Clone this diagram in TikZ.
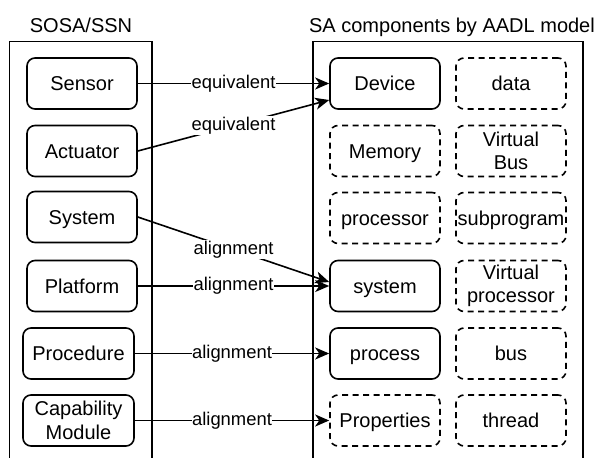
\documentclass[tikz,border=0pt]{standalone}
\usepackage{fontspec}
\setmainfont{Liberation Sans}
\usetikzlibrary{arrows.meta}

\tikzset{
  lw/.style={line width=1.6pt},
  comp/.style={lw, draw, rounded corners=8pt, minimum width=110pt, minimum height=51pt,
    inner sep=1pt, align=center, font=\fontsize{20}{23.5}\selectfont},
  oneline/.style={text height=18pt, text depth=3.6pt},
  solidcomp/.style={comp},
  optcomp/.style={comp, dash pattern=on 6pt off 4.5pt},
  container/.style={lw, draw},
  heading/.style={anchor=base, inner sep=0pt, font=\fontsize{20}{24}\selectfont},
  link/.style={lw, -{Stealth[length=14pt,width=12pt,inset=4pt]}},
  linklabel/.style={midway, fill=white, inner sep=0.6pt, font=\fontsize{18.4}{22}\selectfont}
}

\begin{document}
\begin{tikzpicture}[x=1pt, y=-1pt]
  \useasboundingbox (0,0) rectangle (598,458);

  % the two frames run past the lower edge
  \begin{scope}
    \clip (0,0) rectangle (598,458);
    \draw[container] (9.5,41.5) rectangle (152,470);
    \draw[container] (313,41.5) rectangle (583,470);
  \end{scope}

  \node[heading] (lefttitle) at (81,32.3) {SOSA/SSN};
  \node[heading] (righttitle) at (452,32.3) {SA components by AADL model};

  % SOSA/SSN concepts
  \node[solidcomp, oneline] (sensor)    at (82,83.5)   {Sensor};
  \node[solidcomp, oneline] (actuator)  at (82,151)    {Actuator};
  \node[solidcomp, oneline] (systemL)   at (82,217)    {System};
  \node[solidcomp, oneline] (platform)  at (82,286)    {Platform};
  \node[solidcomp, oneline, minimum width=111pt] (procedure) at (78.5,353.5) {Procedure};
  \node[solidcomp, minimum width=111pt] (capability) at (78.5,420.5) {Capability\\Module};

  % AADL components, first column
  \node[solidcomp, oneline] (device)     at (385,83.5)  {Device};
  \node[optcomp, oneline]   (memory)     at (385,151)   {Memory};
  \node[optcomp, oneline]   (processor)  at (385,218)   {processor};
  \node[solidcomp, oneline] (systemR)    at (385,286)   {system};
  \node[solidcomp, oneline] (process)    at (385,353.5) {process};
  \node[optcomp, oneline]   (properties) at (385,420.5) {Properties};

  % AADL components, second column
  \node[optcomp, oneline] (data)       at (511,83.5)  {data};
  \node[optcomp]          (vbus)       at (511,151)   {Virtual\\Bus};
  \node[optcomp, oneline] (subprogram) at (511,218)   {subprogram};
  \node[optcomp]          (vproc)      at (511,286)   {Virtual\\processor};
  \node[optcomp, oneline] (bus)        at (511,353.5) {bus};
  \node[optcomp, oneline] (thread)     at (511,420.5) {thread};

  % correspondences
  \draw[link] (sensor.east) -- (device.west) node[linklabel] {equivalent};
  \draw[link] (actuator.east) -- ([yshift=-16.5pt]device.west) node[linklabel] {equivalent};
  \draw[link] (systemL.east) -- ([yshift=4pt]systemR.west) node[linklabel] {alignment};
  \draw[link] (platform.east) -- (systemR.west) node[linklabel] {alignment};
  \draw[link] (procedure.east) -- (process.west) node[linklabel] {alignment};
  \draw[link] (capability.east) -- (properties.west) node[linklabel] {alignment};
\end{tikzpicture}
\end{document}
